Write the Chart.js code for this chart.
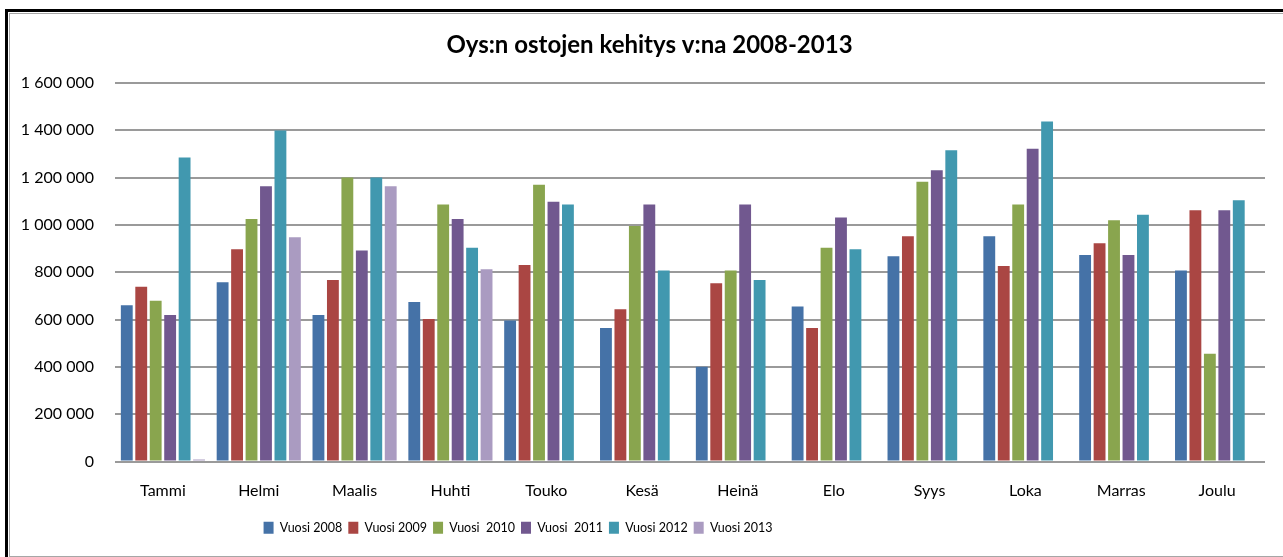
<!DOCTYPE html>
<html>
<head>
<meta charset="utf-8">
<script src="https://cdn.jsdelivr.net/npm/chart.js@4"></script>
<style>
  body { margin: 0; background: #fff; overflow: hidden; }
  #frame { position: absolute; left: 5px; top: 9px; width: 1300px; height: 560px;
           border-top: 3px solid #000; border-left: 3px solid #000; }
  #inner { position: absolute; left: 1px; top: 1px; width: 1300px; height: 542px;
           border: 1px solid #a6a6a6; }
  #wrap { position: absolute; left: 0; top: 0; width: 1283px; height: 557px; }
</style>
</head>
<body>
<div id="frame"><div id="inner"></div></div>
<div id="wrap"><canvas id="ostot" width="1283" height="557"></canvas></div>
<script>
const months = ['Tammi', 'Helmi', 'Maalis', 'Huhti', 'Touko', 'Kesä', 'Heinä', 'Elo', 'Syys', 'Loka', 'Marras', 'Joulu'];
const v2008 = [661000, 758000, 619000, 674000, 596000, 564000, 401000, 655000, 868000, 952000, 873000, 807000];
const v2009 = [739000, 897000, 767000, 602000, 831000, 644000, 754000, 564000, 952000, 826000, 923000, 1062000];
const v2010 = [679000, 1025000, 1201000, 1086000, 1170000, 996000, 807000, 904000, 1183000, 1086000, 1020000, 456000];
const v2011 = [619000, 1164000, 892000, 1025000, 1098000, 1086000, 1086000, 1031000, 1231000, 1322000, 873000, 1062000];
const v2012 = [1285000, 1399000, 1201000, 904000, 1086000, 807000, 767000, 897000, 1316000, 1437000, 1043000, 1104000];
const v2013 = [8000, 948000, 1164000, 813000, null, null, null, null, null, null, null, null];

const names = ['Vuosi 2008', 'Vuosi 2009', 'Vuosi  2010', 'Vuosi  2011', 'Vuosi 2012', 'Vuosi 2013'];
const colors = ['#4572A7', '#AA4643', '#89A54E', '#71588F', '#4198AF', '#AA9BC1'];
const series = [v2008, v2009, v2010, v2011, v2012, v2013];

function fmt(v) {
  return String(v).replace(/\B(?=(\d{3})+(?!\d))/g, ' ');
}

// Excel puts the legend left of centre and the title a bit right, nudge them
const nudge = {
  id: 'nudge',
  afterLayout(chart) {
    const lg = chart.legend;
    const dx = 515 - (lg.left + lg.right - lg.options.labels.padding) / 2;
    lg.left += dx;
    lg.right += dx;
    chart.titleBlock.left += 17;
    chart.titleBlock.right += 17;
  }
};

new Chart(document.getElementById('ostot'), {
  type: 'bar',
  data: {
    labels: months,
    datasets: series.map((d, i) => ({
      label: names[i],
      data: d,
      backgroundColor: colors[i],
      borderWidth: 0,
      barPercentage: 0.82,
      categoryPercentage: 0.905
    }))
  },
  options: {
    responsive: false,
    animation: false,
    layout: { padding: { left: 0, right: 18, top: 0, bottom: 13 } },
    plugins: {
      title: {
        display: true,
        text: 'Oys:n ostojen kehitys v:na 2008-2013',
        color: '#000',
        font: { family: 'Lato', size: 24, weight: 'bold' },
        padding: { top: 30.6, bottom: 23.6 }
      },
      legend: {
        position: 'bottom',
        labels: {
          color: '#000',
          font: { family: 'Lato', size: 12.5 },
          boxWidth: 10,
          boxHeight: 12,
          padding: 6
        }
      },
      tooltip: { enabled: false }
    },
    scales: {
      x: {
        grid: { display: false },
        border: { display: false },
        ticks: { color: '#000', font: { family: 'Lato', size: 16 }, padding: 12 },
        afterFit(s) { s.height = 54; }
      },
      y: {
        min: 0,
        max: 1600000,
        ticks: {
          stepSize: 200000,
          color: '#000',
          font: { family: 'Lato', size: 16 },
          padding: 21,
          callback: v => fmt(v)
        },
        grid: { color: '#9a9a9a', lineWidth: 2, drawTicks: false },
        border: { display: false },
        afterFit(s) { s.width = 115; }
      }
    }
  },
  plugins: [nudge]
});
</script>
</body>
</html>
